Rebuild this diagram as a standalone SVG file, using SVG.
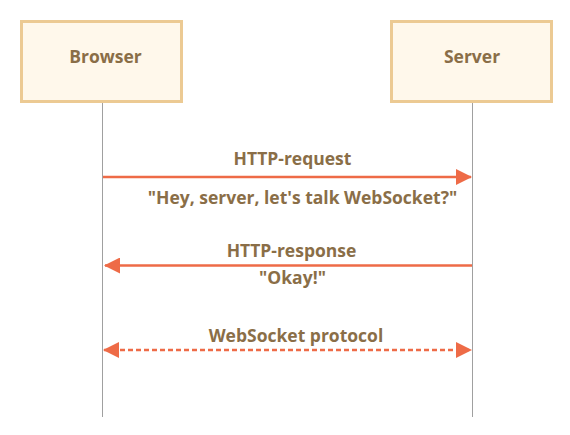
<svg xmlns="http://www.w3.org/2000/svg" width="570" height="435" viewBox="0 0 570 435">
<style>
.box{fill:#fff8eb;stroke:#ecca93;stroke-width:3}
.life{stroke:#a0a0a0;stroke-width:1}
.t{font-family:"Open Sans","DejaVu Sans",sans-serif;font-weight:bold;font-size:17.5px;fill:#8a6e47;text-anchor:middle}
.arr{stroke:#ee6b47;stroke-width:2.5;fill:none}
.dash{stroke-dasharray:5,3}
</style>
<defs>
<marker id="ah" markerWidth="16" markerHeight="16" viewBox="0 0 16 16" refX="15" refY="8" orient="auto-start-reverse" markerUnits="userSpaceOnUse">
<path d="M0,0 L16,8 L0,16 Z" fill="#ee6b47"/>
</marker>
</defs>
<g id="lifelines">
<line class="life" x1="102.5" y1="102" x2="102.5" y2="417"/>
<line class="life" x1="472.5" y1="102" x2="472.5" y2="417"/>
</g>
<g id="browser">
<rect class="box" x="21.5" y="21.5" width="160" height="80"/>
<text class="t" x="105.5" y="63">Browser</text>
</g>
<g id="server">
<rect class="box" x="391.5" y="21.5" width="160" height="80"/>
<text class="t" x="472" y="63">Server</text>
</g>
<g id="connectors">
<line class="arr" x1="103" y1="177" x2="471" y2="177" marker-end="url(#ah)"/>
<line class="arr" x1="472" y1="265.5" x2="105" y2="265.5" marker-end="url(#ah)"/>
<line class="arr dash" x1="104" y1="350" x2="471" y2="350" marker-start="url(#ah)" marker-end="url(#ah)"/>
</g>
<g id="labels">
<text class="t" x="292.5" y="165">HTTP-request</text>
<text class="t" x="302.5" y="204">"Hey, server, let's talk WebSocket?"</text>
<text class="t" x="291.5" y="257">HTTP-response</text>
<text class="t" x="292.5" y="284">"Okay!"</text>
<text class="t" x="296" y="342">WebSocket protocol</text>
</g>
</svg>
